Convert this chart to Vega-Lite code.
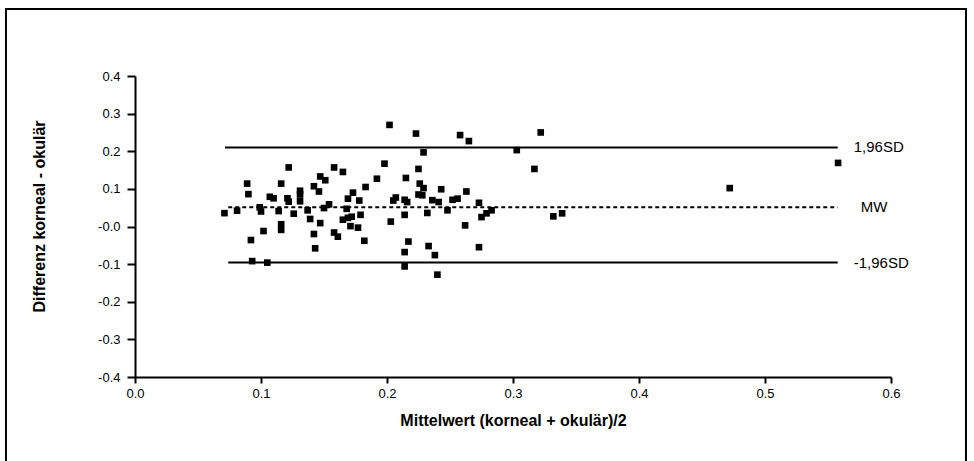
{
  "$schema": "https://vega.github.io/schema/vega-lite/v6.json",
  "width": 756,
  "height": 301,
  "autosize": "none",
  "padding": {"left": 135, "top": 76, "right": 83, "bottom": 84},
  "background": "white",
  "config": {
    "view": {"stroke": null},
    "font": "Liberation Sans",
    "axis": {
      "grid": false,
      "domainColor": "black",
      "domainWidth": 2,
      "tickColor": "black",
      "tickWidth": 2,
      "labelColor": "black",
      "labelFont": "Liberation Sans",
      "labelFontSize": 13,
      "labelOverlap": false,
      "labelFlush": false,
      "titleColor": "black",
      "titleFont": "Liberation Sans",
      "titleFontWeight": "bold",
      "titleFontSize": 16
    }
  },
  "datasets": {
    "points": [
      {"mean": 0.071, "diff": 0.0355}, {"mean": 0.081, "diff": 0.042}, {"mean": 0.089, "diff": 0.114}, {"mean": 0.090, "diff": 0.086},
      {"mean": 0.092, "diff": -0.036}, {"mean": 0.093, "diff": -0.092}, {"mean": 0.099, "diff": 0.051}, {"mean": 0.100, "diff": 0.040},
      {"mean": 0.102, "diff": -0.012}, {"mean": 0.105, "diff": -0.096}, {"mean": 0.107, "diff": 0.079}, {"mean": 0.110, "diff": 0.075},
      {"mean": 0.114, "diff": 0.041}, {"mean": 0.116, "diff": 0.114}, {"mean": 0.116, "diff": 0.006}, {"mean": 0.116, "diff": -0.009},
      {"mean": 0.122, "diff": 0.157}, {"mean": 0.121, "diff": 0.075}, {"mean": 0.122, "diff": 0.066}, {"mean": 0.126, "diff": 0.034},
      {"mean": 0.131, "diff": 0.095}, {"mean": 0.131, "diff": 0.085}, {"mean": 0.131, "diff": 0.067}, {"mean": 0.137, "diff": 0.043},
      {"mean": 0.139, "diff": 0.020}, {"mean": 0.142, "diff": 0.107}, {"mean": 0.142, "diff": -0.020}, {"mean": 0.143, "diff": -0.058},
      {"mean": 0.146, "diff": 0.093}, {"mean": 0.147, "diff": 0.009}, {"mean": 0.147, "diff": 0.133}, {"mean": 0.151, "diff": 0.123},
      {"mean": 0.150, "diff": 0.049}, {"mean": 0.154, "diff": 0.059}, {"mean": 0.158, "diff": 0.157}, {"mean": 0.158, "diff": -0.016},
      {"mean": 0.161, "diff": -0.027}, {"mean": 0.165, "diff": 0.145}, {"mean": 0.165, "diff": 0.018}, {"mean": 0.168, "diff": 0.047},
      {"mean": 0.169, "diff": 0.074}, {"mean": 0.169, "diff": 0.023}, {"mean": 0.171, "diff": 0.001}, {"mean": 0.172, "diff": 0.026},
      {"mean": 0.173, "diff": 0.090}, {"mean": 0.177, "diff": -0.003}, {"mean": 0.178, "diff": 0.069}, {"mean": 0.179, "diff": 0.031},
      {"mean": 0.182, "diff": -0.038}, {"mean": 0.183, "diff": 0.105}, {"mean": 0.192, "diff": 0.127}, {"mean": 0.198, "diff": 0.167},
      {"mean": 0.202, "diff": 0.270}, {"mean": 0.203, "diff": 0.013}, {"mean": 0.205, "diff": 0.069}, {"mean": 0.207, "diff": 0.077},
      {"mean": 0.214, "diff": -0.068}, {"mean": 0.214, "diff": -0.106}, {"mean": 0.214, "diff": 0.071}, {"mean": 0.214, "diff": 0.031},
      {"mean": 0.215, "diff": 0.129}, {"mean": 0.216, "diff": 0.065}, {"mean": 0.217, "diff": -0.040}, {"mean": 0.223, "diff": 0.247},
      {"mean": 0.225, "diff": 0.153}, {"mean": 0.225, "diff": 0.085}, {"mean": 0.226, "diff": 0.114}, {"mean": 0.229, "diff": 0.197},
      {"mean": 0.229, "diff": 0.102}, {"mean": 0.228, "diff": 0.083}, {"mean": 0.232, "diff": 0.036}, {"mean": 0.233, "diff": -0.052},
      {"mean": 0.236, "diff": 0.070}, {"mean": 0.238, "diff": -0.076}, {"mean": 0.240, "diff": -0.128}, {"mean": 0.241, "diff": 0.065},
      {"mean": 0.243, "diff": 0.099}, {"mean": 0.248, "diff": 0.043}, {"mean": 0.252, "diff": 0.071}, {"mean": 0.256, "diff": 0.074},
      {"mean": 0.258, "diff": 0.243}, {"mean": 0.262, "diff": 0.003}, {"mean": 0.263, "diff": 0.093}, {"mean": 0.265, "diff": 0.227},
      {"mean": 0.273, "diff": -0.055}, {"mean": 0.273, "diff": 0.063}, {"mean": 0.275, "diff": 0.025}, {"mean": 0.279, "diff": 0.035},
      {"mean": 0.283, "diff": 0.043}, {"mean": 0.303, "diff": 0.203}, {"mean": 0.317, "diff": 0.153}, {"mean": 0.322, "diff": 0.250},
      {"mean": 0.332, "diff": 0.027}, {"mean": 0.339, "diff": 0.035}, {"mean": 0.472, "diff": 0.102}, {"mean": 0.558, "diff": 0.169}
    ],
    "lines": [
      {"name": "1,96SD", "x": 0.0714, "x2": 0.5577, "y": 0.21},
      {"name": "MW", "x": 0.074, "x2": 0.5577, "y": 0.051},
      {"name": "-1,96SD", "x": 0.074, "x2": 0.5577, "y": -0.096}
    ],
    "frame": [
      {"x": -0.1024, "x2": 0.6595, "y": 0.578, "y2": -0.66}
    ]
  },
  "layer": [
    {
      "data": {"name": "frame"},
      "mark": {"type": "rect", "fill": null, "stroke": "black", "strokeWidth": 2, "clip": false},
      "encoding": {
        "x": {
          "field": "x", "type": "quantitative",
          "scale": {"domain": [0, 0.6], "nice": false, "zero": false},
          "axis": {
            "values": [0, 0.1, 0.2, 0.3, 0.4, 0.5, 0.6],
            "tickCount": 10,
            "format": ".1f",
            "tickSize": 6,
            "labelPadding": 4,
            "title": "Mittelwert (korneal + okulär)/2",
            "titlePadding": 12
          }
        },
        "x2": {"field": "x2"},
        "y": {
          "field": "y", "type": "quantitative",
          "scale": {"domain": [-0.4, 0.4], "nice": false, "zero": false},
          "axis": {
            "values": [-0.4, -0.3, -0.2, -0.1, 0, 0.1, 0.2, 0.3, 0.4],
            "tickCount": 12,
            "labelExpr": "datum.value == 0 ? '-0.0' : (datum.value < 0 ? '-' : '') + format(abs(datum.value), '.1f')",
            "tickSize": 8,
            "labelPadding": 7,
            "title": "Differenz  korneal - okulär",
            "titlePadding": 50,
            "titleY": 140
          }
        },
        "y2": {"field": "y2"}
      }
    },
    {
      "data": {"name": "lines"},
      "transform": [{"filter": "datum.name != 'MW'"}],
      "mark": {"type": "rule", "color": "black", "strokeWidth": 2},
      "encoding": {
        "x": {"field": "x", "type": "quantitative"},
        "x2": {"field": "x2"},
        "y": {"field": "y", "type": "quantitative"}
      }
    },
    {
      "data": {"name": "lines"},
      "transform": [{"filter": "datum.name == 'MW'"}],
      "mark": {"type": "rule", "color": "black", "strokeWidth": 2, "strokeDash": [4, 3]},
      "encoding": {
        "x": {"field": "x", "type": "quantitative"},
        "x2": {"field": "x2"},
        "y": {"field": "y", "type": "quantitative"}
      }
    },
    {
      "data": {"name": "lines"},
      "transform": [{"filter": "datum.name != 'MW'"}],
      "mark": {"type": "text", "align": "left", "baseline": "middle", "dx": 16, "fontSize": 15, "font": "Liberation Sans", "color": "black"},
      "encoding": {
        "x": {"field": "x2", "type": "quantitative"},
        "y": {"field": "y", "type": "quantitative"},
        "text": {"field": "name"}
      }
    },
    {
      "data": {"name": "lines"},
      "transform": [{"filter": "datum.name == 'MW'"}],
      "mark": {"type": "text", "align": "left", "baseline": "middle", "dx": 23, "fontSize": 15, "font": "Liberation Sans", "color": "black"},
      "encoding": {
        "x": {"field": "x2", "type": "quantitative"},
        "y": {"field": "y", "type": "quantitative"},
        "text": {"field": "name"}
      }
    },
    {
      "data": {"name": "points"},
      "mark": {"type": "point", "shape": "square", "filled": true, "color": "black", "opacity": 1, "size": 44, "strokeWidth": 0},
      "encoding": {
        "x": {"field": "mean", "type": "quantitative"},
        "y": {"field": "diff", "type": "quantitative"}
      }
    }
  ]
}
